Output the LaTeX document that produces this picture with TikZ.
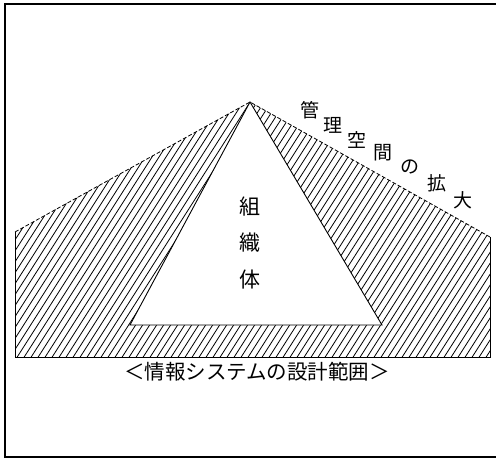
\documentclass[tikz,border=0pt]{standalone}
\usepackage{fontspec}
\newfontfamily\jp{Noto Sans CJK JP}
\begin{document}
\begin{tikzpicture}[x=1pt,y=-1pt,
  frame/.style={line width=1.4pt},
  edge/.style={line width=0.9pt},
  hatch/.style={line width=0.8pt},
  dashedge/.style={line width=0.8pt,dash pattern=on 4pt off 2pt},
  lbl/.style={font=\jp\fontsize{19}{19}\selectfont,inner sep=0pt},
  big/.style={font=\jp\fontsize{21}{21}\selectfont,inner sep=0pt},
  bot/.style={font=\jp\fontsize{20.5}{20.5}\selectfont,inner sep=0pt}]
\useasboundingbox (0,0) rectangle (496,458);
% frame (top, left, bottom)
\draw[frame] (496,4) -- (5,4) -- (5,457) -- (496,457);
% outer region
\coordinate (bl) at (15,357);
\coordinate (tl) at (15,232);
\coordinate (apex) at (250,102);
\coordinate (tr) at (490,237);
\coordinate (br) at (490,357);
\begin{scope}
\clip (bl) -- (tl) -- (apex) -- (tr) -- (br) -- cycle;
\foreach \i in {-30,...,75} \draw[hatch] (\i*7,362) -- ++(170,-266);
\end{scope}
\draw[edge] (tl) -- (bl) -- (br) -- (tr);
\draw[dashedge] (tl) -- (apex) -- (tr);
% organisation triangle
\coordinate (ta) at (250,102);
\coordinate (tb) at (130,325);
\coordinate (tc) at (382,325);
\fill[white] (ta) -- (tb) -- (tc) -- cycle;
\draw[edge,line join=miter] (ta) -- (tb) -- (tc) -- cycle;
% labels
\node[big] (s1) at (250,207) {組};
\node[big] (s2) at (250,243) {織};
\node[big] (s3) at (250,280) {体};
\node[lbl] (k1) at (310,110) {管};
\node[lbl] (k2) at (333,125) {理};
\node[lbl] (k3) at (357,140) {空};
\node[lbl] (k4) at (383,153) {間};
\node[lbl] (k5) at (410,167) {の};
\node[lbl] (k6) at (437,183) {拡};
\node[lbl] (k7) at (463,200) {大};
\node[bot] (bottom) at (257,372) {＜情報システムの設計範囲＞};
\end{tikzpicture}
\end{document}
